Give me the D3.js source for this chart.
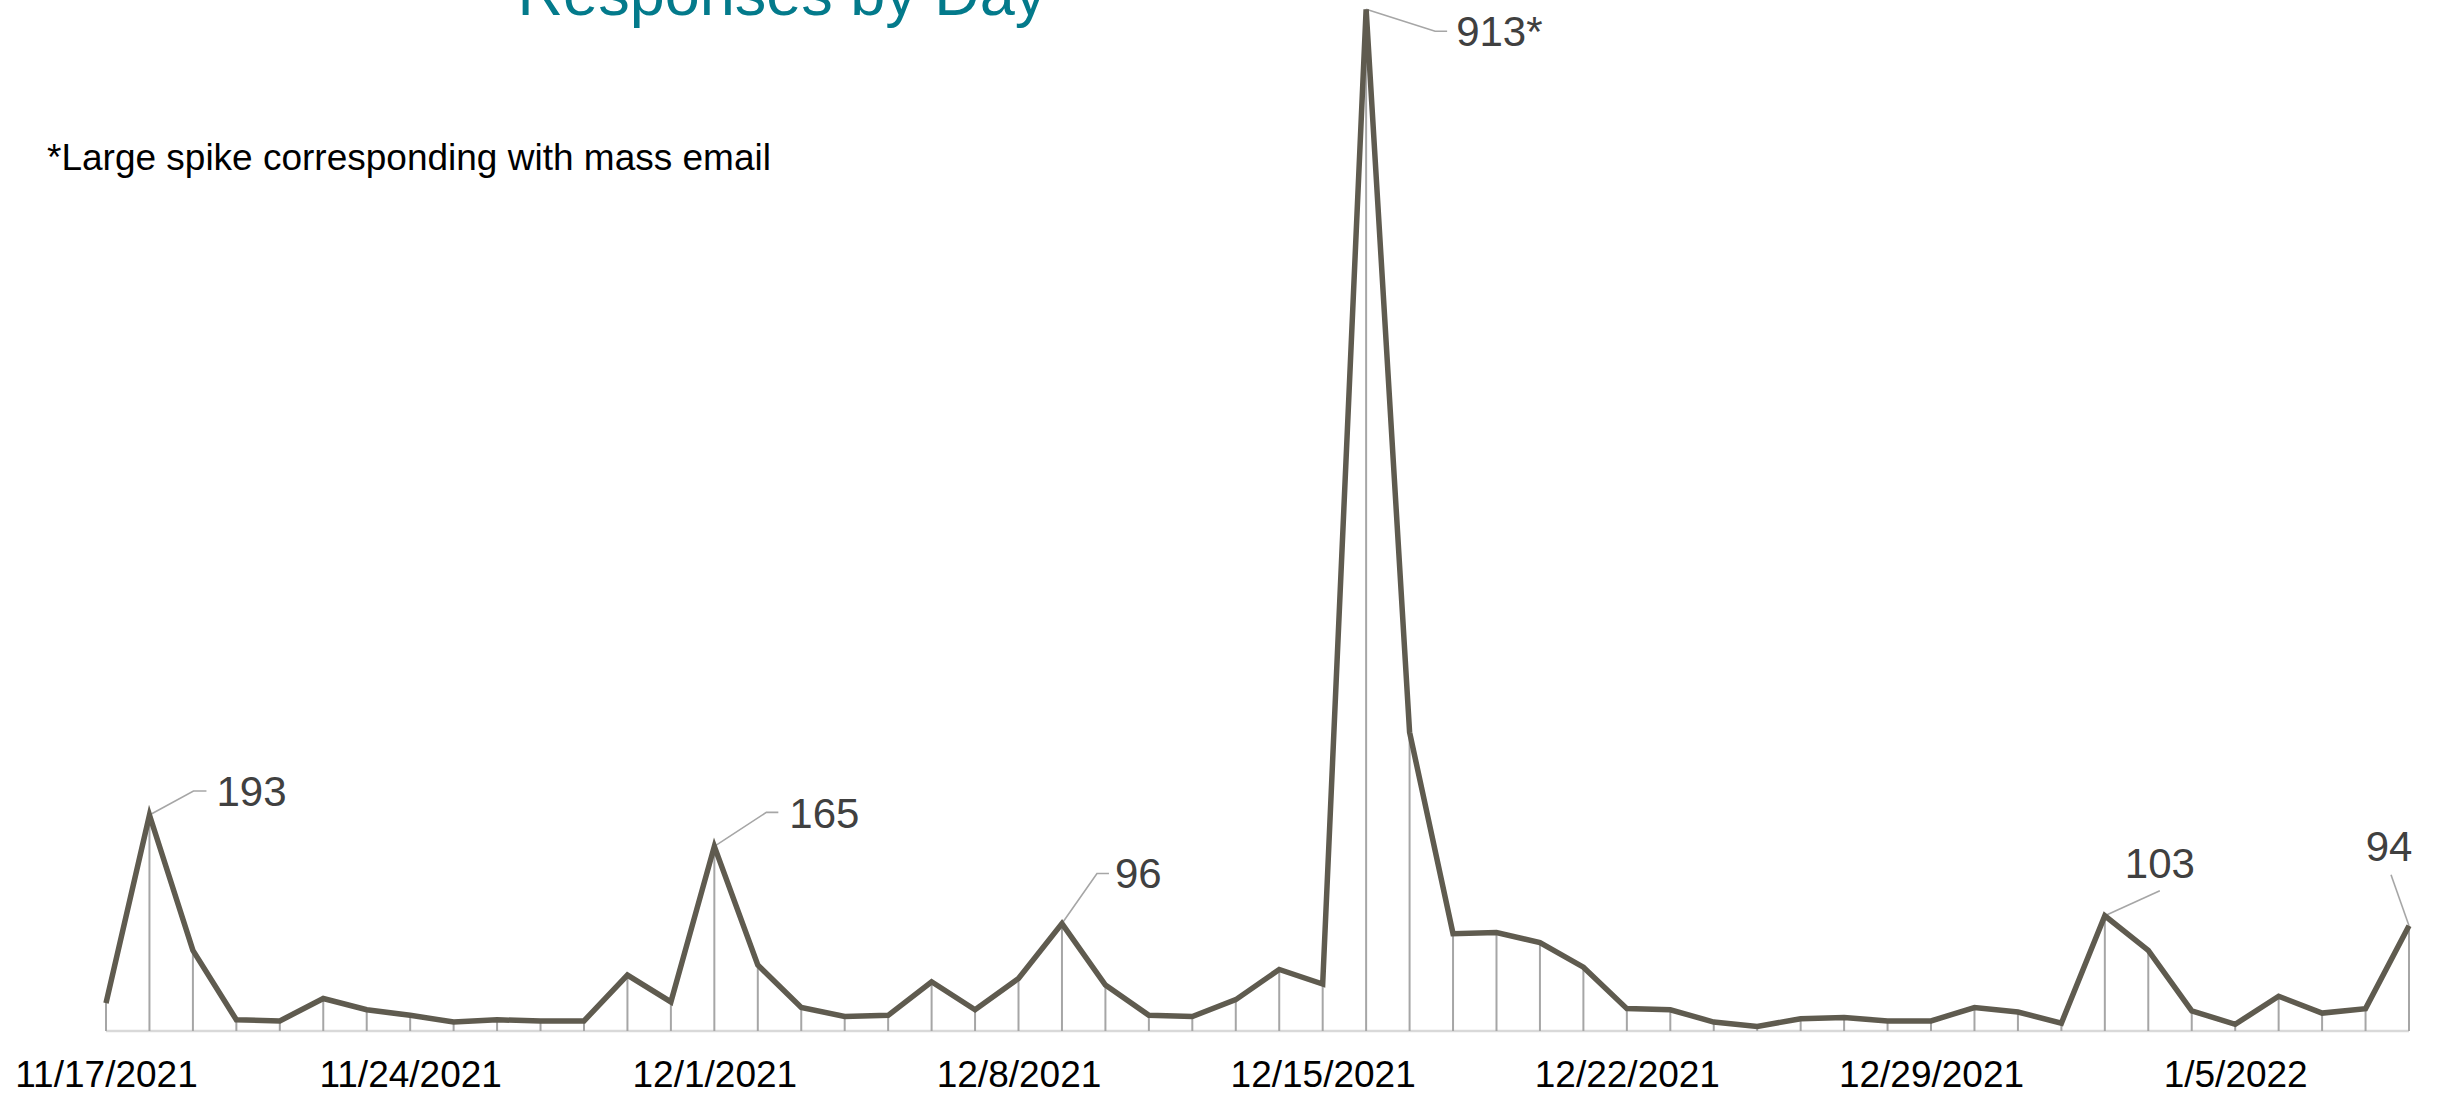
<!DOCTYPE html>
<html>
<head>
<meta charset="utf-8">
<title>Responses by Day</title>
<script src="https://cdn.jsdelivr.net/npm/d3@7"></script>
<style>
  html, body { margin: 0; padding: 0; background: #ffffff; }
  svg { display: block; }
</style>
</head>
<body>
<svg id="chart" width="2440" height="1094"></svg>
<script>
// Daily survey responses, 11/17/2021 through 1/9/2022
const days = [
  "2021-11-17","2021-11-18","2021-11-19","2021-11-20","2021-11-21","2021-11-22","2021-11-23",
  "2021-11-24","2021-11-25","2021-11-26","2021-11-27","2021-11-28","2021-11-29","2021-11-30",
  "2021-12-01","2021-12-02","2021-12-03","2021-12-04","2021-12-05","2021-12-06","2021-12-07",
  "2021-12-08","2021-12-09","2021-12-10","2021-12-11","2021-12-12","2021-12-13","2021-12-14",
  "2021-12-15","2021-12-16","2021-12-17","2021-12-18","2021-12-19","2021-12-20","2021-12-21",
  "2021-12-22","2021-12-23","2021-12-24","2021-12-25","2021-12-26","2021-12-27","2021-12-28",
  "2021-12-29","2021-12-30","2021-12-31","2022-01-01","2022-01-02","2022-01-03","2022-01-04",
  "2022-01-05","2022-01-06","2022-01-07","2022-01-08","2022-01-09"
];
const responses = [
  25, 193, 72, 10, 9, 29, 19,
  14, 8, 10, 9, 9, 50, 26,
  165, 59, 21, 13, 14, 44, 19,
  47, 96, 41, 14, 13, 28, 55,
  42, 913, 267, 87, 88, 79, 57,
  20, 19, 8, 4, 11, 12, 9,
  9, 21, 17, 7, 103, 72, 18,
  6, 31, 16, 20, 94
];
const tickDays = [
  "2021-11-17","2021-11-24","2021-12-01","2021-12-08",
  "2021-12-15","2021-12-22","2021-12-29","2022-01-05"
];
// Days whose values are called out, and the marker appended to each value
const calloutDays = ["2021-11-18","2021-12-01","2021-12-09","2021-12-16","2022-01-02","2022-01-09"];
const calloutSuffix = ["", "", "", "*", "", ""];

const chartTitle = "Responses by Day";
const footnote = "*Large spike corresponding with mass email";

// ---- layout / style ----
const FONT = "'Liberation Sans', Arial, Helvetica, sans-serif";
const lineColor = "#5f5b4f";
const dropColor = "#a6a6a6";
const baseColor = "#d9d9d9";
const labelColor = "#404040";
const titleColor = "#037a8b";

// Leader-line geometry (offsets from the point) and text placement per callout
const calloutLayout = [
  { leader: [[0,0],[44,-24],[57,-24]], text: [67, -9],  anchor: "start"  },
  { leader: [[0,0],[52,-34],[64,-34]], text: [75, -18], anchor: "start"  },
  { leader: [[0,0],[35,-50],[47,-50]], text: [53, -36], anchor: "start"  },
  { leader: [[0,0],[69,22],[81,22]],   text: [90, 37],  anchor: "start"  },
  { leader: [[0,0],[55,-25]],          text: [55, -38], anchor: "middle" },
  { leader: [[0,0],[-18,-51]],         text: [-20, -65],anchor: "middle" }
];

const parse = d3.timeParse("%Y-%m-%d");
const fmt = d3.timeFormat("%-m/%-d/%Y");
const data = days.map((d, i) => ({ date: parse(d), key: d, value: responses[i] }));

const svg = d3.select("#chart");

const x = d3.scaleTime()
  .domain(d3.extent(data, d => d.date))
  .range([106, 2409]);

const y = d3.scaleLinear()
  .domain([0, d3.max(responses)])
  .range([1031, 9.3]);

// Title (runs off the top edge of the frame)
svg.append("text")
  .attr("x", 782)
  .attr("y", 15)
  .attr("text-anchor", "middle")
  .attr("font-family", FONT)
  .attr("font-size", 63)
  .attr("fill", titleColor)
  .text(chartTitle);

// Footnote
svg.append("text")
  .attr("x", 47)
  .attr("y", 170)
  .attr("font-family", FONT)
  .attr("font-size", 37)
  .attr("fill", "#000000")
  .text(footnote);

// Horizontal baseline
svg.append("line")
  .attr("x1", x.range()[0])
  .attr("x2", x.range()[1])
  .attr("y1", y(0))
  .attr("y2", y(0))
  .attr("stroke", baseColor)
  .attr("stroke-width", 2.5);

// Drop lines from each point to the baseline
svg.append("g")
  .selectAll("line")
  .data(data)
  .join("line")
  .attr("x1", d => x(d.date))
  .attr("x2", d => x(d.date))
  .attr("y1", d => y(d.value))
  .attr("y2", y(0))
  .attr("stroke", dropColor)
  .attr("stroke-width", 2);

// X axis with weekly labels
const xAxis = d3.axisBottom(x)
  .tickValues(tickDays.map(parse))
  .tickFormat(fmt)
  .tickSize(0);

const gx = svg.append("g")
  .attr("transform", `translate(0,${y(0)})`)
  .call(xAxis);
gx.select(".domain").remove();
gx.selectAll("text")
  .attr("y", 56)
  .attr("dy", 0)
  .attr("font-family", FONT)
  .attr("font-size", 37)
  .attr("fill", "#000000");

// Callout leader lines and labels
const callouts = calloutDays.map((k, i) => {
  const d = data.find(p => p.key === k);
  return { d, suffix: calloutSuffix[i], layout: calloutLayout[i] };
});

const cg = svg.append("g");
callouts.forEach(c => {
  const px = x(c.d.date), py = y(c.d.value);
  cg.append("path")
    .attr("d", d3.line()(c.layout.leader.map(([dx, dy]) => [px + dx, py + dy])))
    .attr("fill", "none")
    .attr("stroke", dropColor)
    .attr("stroke-width", 1.6);
  cg.append("text")
    .attr("x", px + c.layout.text[0])
    .attr("y", py + c.layout.text[1])
    .attr("text-anchor", c.layout.anchor)
    .attr("font-family", FONT)
    .attr("font-size", 42)
    .attr("fill", labelColor)
    .text(c.d.value + c.suffix);
});

// Response line
svg.append("path")
  .datum(data)
  .attr("fill", "none")
  .attr("stroke", lineColor)
  .attr("stroke-width", 5.5)
  .attr("stroke-linejoin", "miter")
  .attr("d", d3.line().x(d => x(d.date)).y(d => y(d.value)));
</script>
</body>
</html>
